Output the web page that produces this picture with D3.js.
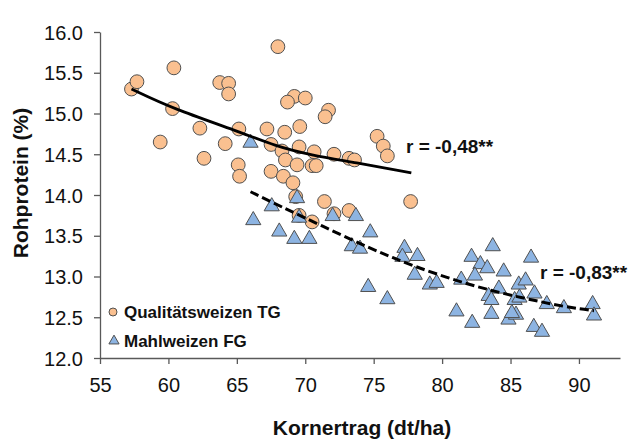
<!DOCTYPE html>
<html>
<head>
<meta charset="utf-8">
<script src="https://cdn.jsdelivr.net/npm/d3@7"></script>
<style>
  html, body { margin: 0; padding: 0; background: #fff; }
  svg { display: block; font-family: Arial, "Liberation Sans", sans-serif; }
</style>
</head>
<body>
<div id="chart"></div>
<script>
// ---- Data ----
const xTicks = [55, 60, 65, 70, 75, 80, 85, 90];
const yTicks = [12.0, 12.5, 13.0, 13.5, 14.0, 14.5, 15.0, 15.5, 16.0];

// Qualitätsweizen TG: [Kornertrag, Rohprotein]
const tgX = [57.3, 57.7, 60.4, 68.0, 63.75, 64.4, 64.4, 60.3, 62.3, 65.15, 67.2, 68.5, 59.4, 64.15, 67.5,
             69.2, 70.0, 68.7, 71.7, 71.45, 69.6, 75.25, 75.7, 76.0, 69.55, 70.65, 72.1, 73.2, 73.6,
             68.3, 68.55, 69.4, 70.5, 70.8, 67.5, 68.4, 69.1, 69.3, 71.4, 73.2, 77.7, 70.5, 69.55, 72.1,
             62.6, 65.1, 65.2];
const tgY = [15.30, 15.39, 15.56, 15.82, 15.38, 15.37, 15.24, 15.06, 14.82, 14.81, 14.81, 14.77, 14.65, 14.63, 14.62,
             15.21, 15.19, 15.14, 15.04, 14.96, 14.84, 14.72, 14.60, 14.48, 14.59, 14.53, 14.50, 14.45, 14.43,
             14.54, 14.43, 14.37, 14.36, 14.36, 14.29, 14.23, 14.15, 13.98, 13.92, 13.81, 13.92, 13.67, 13.75, 13.77,
             14.45, 14.37, 14.23];

// Mahlweizen FG
const fgX = [66.0, 66.2, 67.55, 68.1, 69.4, 69.55, 69.2, 70.3, 72.0, 73.7, 74.75, 73.4, 74.0, 77.25, 77.1, 78.2,
             74.6, 76.0, 78.0, 79.1, 79.6, 82.15, 83.7, 82.8, 83.3, 82.4, 81.4, 84.5, 86.5, 85.6, 86.1, 84.15,
             86.75, 83.4, 83.6, 85.3, 85.65, 87.65, 88.9, 91.0, 91.1, 81.05, 82.2, 83.6, 84.85, 85.4, 85.1, 86.7, 87.3];
const fgY = [14.64, 13.69, 13.86, 13.55, 13.96, 13.72, 13.46, 13.46, 13.74, 13.74, 13.54, 13.37, 13.34, 13.35, 13.24, 13.25,
             12.87, 12.72, 13.02, 12.90, 12.92, 13.24, 13.37, 13.15, 13.10, 13.01, 12.96, 13.06, 13.23, 12.90, 12.95, 12.85,
             12.79, 12.76, 12.71, 12.71, 12.74, 12.66, 12.61, 12.66, 12.52, 12.57, 12.43, 12.54, 12.47, 12.53, 12.55, 12.38, 12.32];

// Trend lines
const trendTgX = [57.3, 60.3, 65.15, 67.8, 70.4, 73.6, 77.75];
const trendTgY = [15.30, 15.06, 14.78, 14.60, 14.49, 14.40, 14.27];
const trendFgX = [66.0, 68.2, 71.1, 74.8, 78.0, 81.9, 85.45, 89.2, 91.1];
const trendFgY = [14.04, 13.86, 13.63, 13.34, 13.12, 12.90, 12.75, 12.62, 12.58];

const seriesNames = ["Qualitätsweizen TG", "Mahlweizen FG"];
const rLabels = ["r = -0,48**", "r = -0,83**"];
const xTitle = "Kornertrag (dt/ha)";
const yTitle = "Rohprotein (%)";

// ---- Layout ----
const W = 633, H = 439;
const colTG = "#FAC090", colFG = "#8DB4E2", markStroke = "#505050", axisCol = "#595959";

const svg = d3.select("#chart").append("svg").attr("width", W).attr("height", H);

const x = d3.scaleLinear().domain([55, 93]).range([100, 620]);
const y = d3.scaleLinear().domain([12, 16]).range([358, 32]);

// Axes
const xAxis = svg.append("g").attr("transform", `translate(0,${y(12)})`)
  .call(d3.axisBottom(x).tickValues(xTicks).tickSize(6).tickPadding(11).tickFormat(d3.format("d")).tickSizeOuter(0));
const yAxis = svg.append("g").attr("transform", `translate(${x(55)},0)`)
  .call(d3.axisLeft(y).tickValues(yTicks).tickSize(6).tickPadding(11).tickFormat(d3.format(".1f")).tickSizeOuter(0));
[xAxis, yAxis].forEach(g => {
  g.select(".domain").attr("stroke", axisCol).attr("stroke-width", 1.3);
  g.selectAll(".tick line").attr("stroke", axisCol).attr("stroke-width", 1.3);
  g.selectAll(".tick text").attr("fill", "#111").style("font-size", "20px").style("font-family", "Arial, 'Liberation Sans', sans-serif");
});
xAxis.selectAll(".tick text").attr("dy", "0.85em");
yAxis.selectAll(".tick text").attr("dy", "0.35em");

// Axis titles
svg.append("text").attr("x", 362).attr("y", 435).attr("text-anchor", "middle")
  .style("font-size", "21px").style("font-weight", "bold").attr("fill", "#111").text(xTitle);
svg.append("text").attr("transform", `translate(28,${183}) rotate(-90)`).attr("text-anchor", "middle")
  .style("font-size", "21px").style("font-weight", "bold").attr("fill", "#111").text(yTitle);

// Points
const tg = tgX.map((v, i) => [v, tgY[i]]);
const fg = fgX.map((v, i) => [v, fgY[i]]);

svg.append("g").selectAll("circle").data(tg).join("circle")
  .attr("cx", d => x(d[0])).attr("cy", d => y(d[1])).attr("r", 6.9)
  .attr("fill", colTG).attr("stroke", markStroke).attr("stroke-width", 1);

const tri = d3.symbol().type(d3.symbolTriangle).size(100);
svg.append("g").selectAll("path").data(fg).join("path")
  .attr("transform", d => `translate(${x(d[0])},${y(d[1])})`)
  .attr("d", tri).attr("fill", colFG).attr("stroke", markStroke).attr("stroke-width", 1);

// Trend lines
const line = d3.line().x(d => x(d[0])).y(d => y(d[1])).curve(d3.curveBasis);
svg.append("path").datum(trendTgX.map((v, i) => [v, trendTgY[i]]))
  .attr("d", line).attr("fill", "none").attr("stroke", "#000").attr("stroke-width", 2.8);
svg.append("path").datum(trendFgX.map((v, i) => [v, trendFgY[i]]))
  .attr("d", line).attr("fill", "none").attr("stroke", "#000").attr("stroke-width", 3)
  .attr("stroke-dasharray", "9,4");

// r labels
svg.append("text").attr("x", 406).attr("y", 153).style("font-size", "19px").style("font-weight", "bold")
  .attr("fill", "#111").text(rLabels[0]);
svg.append("text").attr("x", 540).attr("y", 279).style("font-size", "19px").style("font-weight", "bold")
  .attr("fill", "#111").text(rLabels[1]);

// Legend
svg.append("circle").attr("cx", 113).attr("cy", 312).attr("r", 4)
  .attr("fill", colTG).attr("stroke", markStroke).attr("stroke-width", 1);
svg.append("path").attr("transform", "translate(114,341)")
  .attr("d", d3.symbol().type(d3.symbolTriangle).size(45)).attr("fill", colFG).attr("stroke", markStroke).attr("stroke-width", 1);
svg.append("text").attr("x", 124).attr("y", 312).attr("dy", "0.35em").style("font-size", "17px").style("font-weight", "bold")
  .attr("fill", "#111").text(seriesNames[0]);
svg.append("text").attr("x", 124).attr("y", 341).attr("dy", "0.35em").style("font-size", "17px").style("font-weight", "bold")
  .attr("fill", "#111").text(seriesNames[1]);
</script>
</body>
</html>
